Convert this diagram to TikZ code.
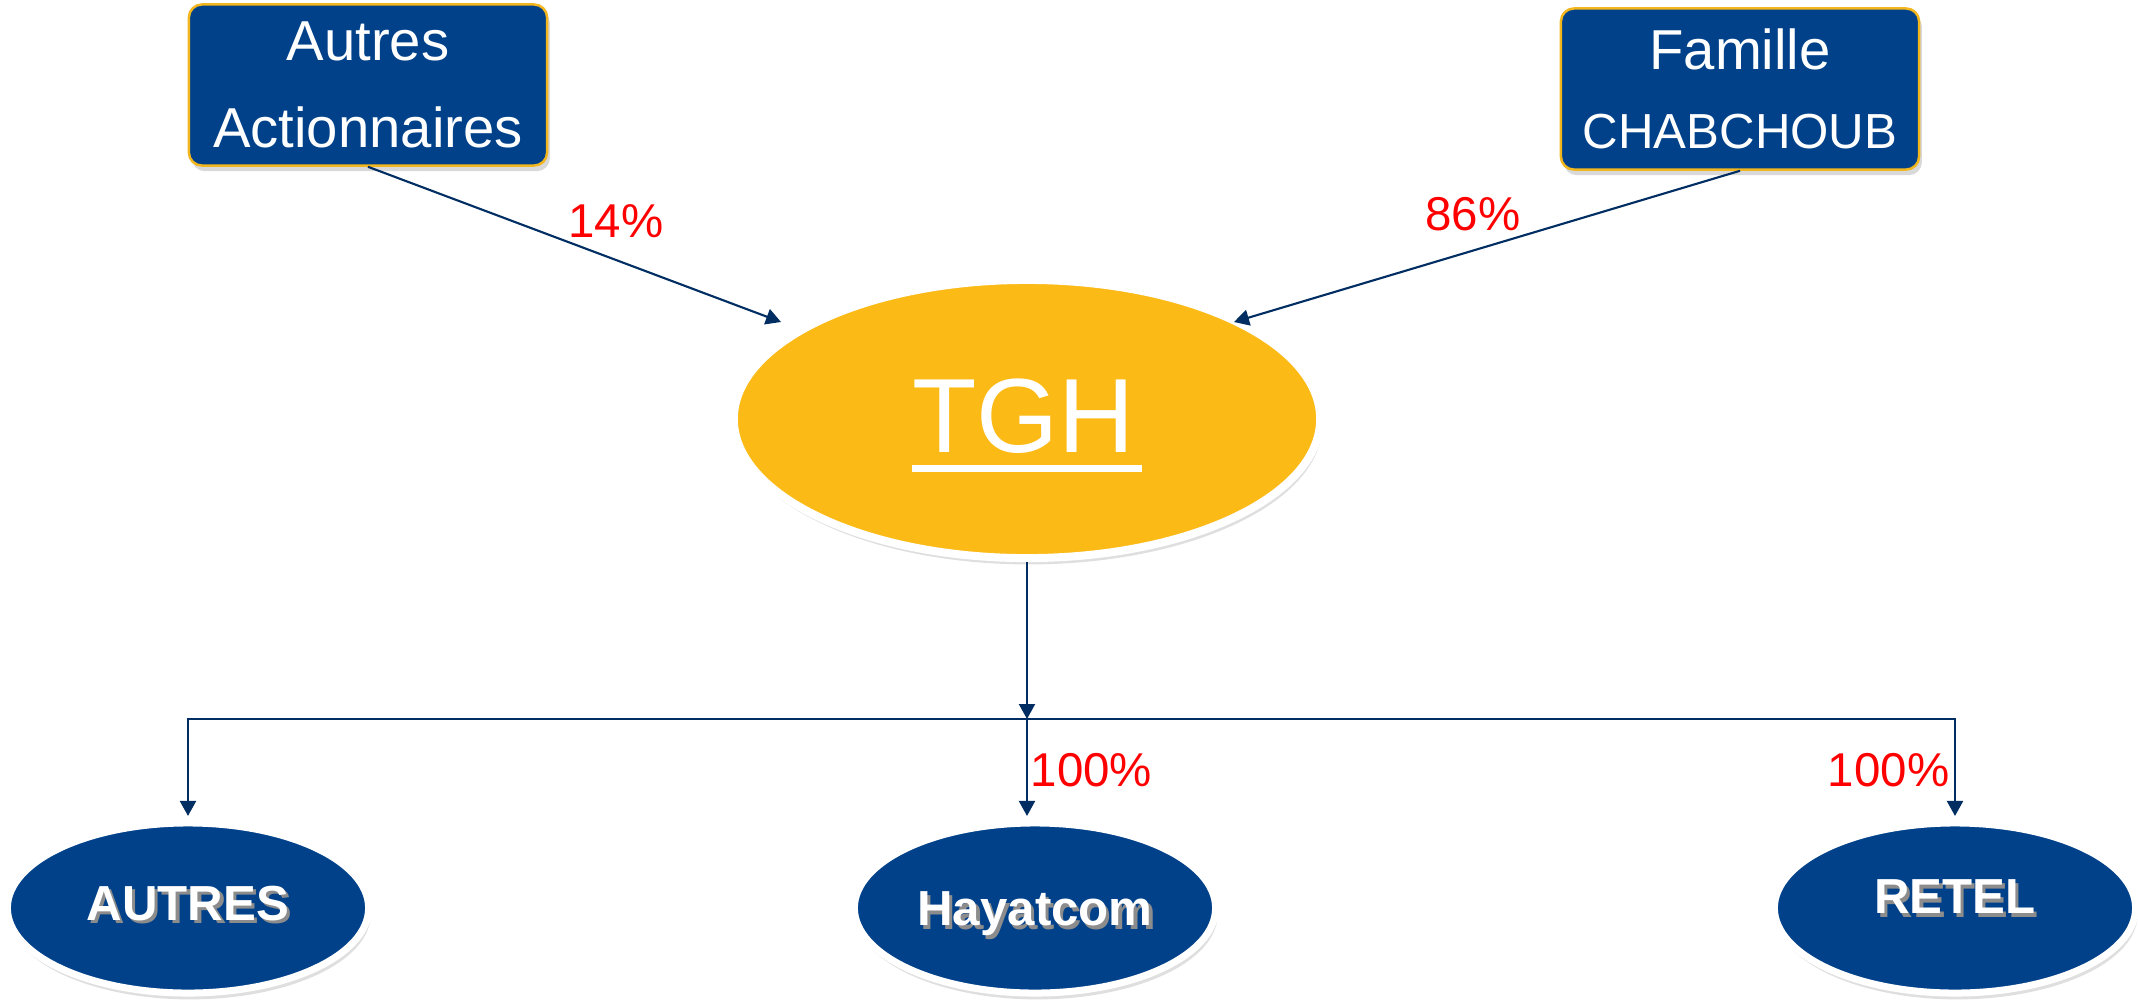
\documentclass[tikz,border=0pt]{standalone}
\usepackage{fontspec}
\setmainfont{Liberation Sans}
\usepackage{xcolor}
\definecolor{blue_box}{RGB}{0,65,138}
\definecolor{gold_tgh}{RGB}{251,186,22}
\definecolor{gold_border}{RGB}{242,182,30}
\definecolor{navy_line}{RGB}{0,45,98}
\definecolor{red_pct}{RGB}{255,0,0}
\definecolor{grey_shadow}{RGB}{140,140,140}
\usepackage{tikz}
\usetikzlibrary{arrows.meta,shapes.geometric,shadows}

\newcommand{\tghline}[1]{\vtop{\hbox{\rule{0pt}{24.5pt}#1\kern2pt}\kern3.1pt\hrule height 2pt}}
\newcommand{\shadowtext}[1]{\rlap{\kern0.9pt\raisebox{-0.9pt}{\textcolor{grey_shadow}{#1}}}#1}

\begin{document}
\begin{tikzpicture}
[	x=0.01cm, y=-0.01cm,
	holder/.style={draw=gold_border, line width=0.7pt, fill=blue_box, rounded corners=0.13cm,
		minimum width=3.58cm, minimum height=1.61cm, text=white, align=center, inner sep=0pt,
		drop shadow={opacity=0.3, shadow xshift=0.8pt, shadow yshift=-1.6pt}},
	holding/.style={ellipse, draw=white, line width=0.08cm, fill=gold_tgh, inner sep=0pt,
		minimum width=5.86cm, minimum height=2.78cm, text=white, font=\fontsize{30}{36}\selectfont,
		drop shadow={opacity=0.25, shadow xshift=0.6pt, shadow yshift=-1.8pt}},
	filiale/.style={ellipse, draw=white, line width=0.07cm, fill=blue_box, inner sep=0pt,
		minimum width=3.61cm, minimum height=1.70cm, text=white, font=\fontsize{14}{17}\selectfont\bfseries,
		text height=10.2pt, text depth=0pt,
		drop shadow={opacity=0.25, shadow xshift=0.6pt, shadow yshift=-1.8pt}},
	pct/.style={text=red_pct, font=\fontsize{13.5}{16}\selectfont, inner sep=0pt},
	link/.style={draw=navy_line, line width=0.6pt, -{Triangle[length=0.15cm, width=0.16cm]}}
]
\useasboundingbox (0,0) rectangle (2138,1002);

% shareholders
\node (aa)[holder, font=\fontsize{16}{24.7}\selectfont] at (368,85) {Autres\\Actionnaires};
\node (fc)[holder, font=\fontsize{16}{22.5}\selectfont] at (1740,89) {Famille\\{\fontsize{14}{22.5}\selectfont CHABCHOUB}};

% holding
\node (tgh)[holding] at (1027,419) {\tghline{TGH}};

% subsidiaries
\node (autres)[filiale, text depth=3.1pt] at (188,908) {\shadowtext{AUTRES}};
\node (hayat)[filiale] at (1035,908) {\shadowtext{Hayatcom}};
\node (retel)[filiale, text depth=6.8pt] at (1955,908) {\shadowtext{RETEL}};

\coordinate (tghL) at (781,322);
\coordinate (tghR) at (1234,322);
\coordinate (hub) at (1027,719);

% arrows to TGH
\draw[link] (aa.south) -- (tghL);
\draw[link] (fc.south) -- (tghR);

% arrows to subsidiaries
\draw[link] (tgh.south) -- (hub);
\draw[link, shorten >=0.035cm] (hub) -| (autres.north);
\draw[link, shorten >=0.035cm] (hub) -| (retel.north);
\draw[link, shorten >=0.035cm] (hub) -- (hub |- hayat.north);

% shares
\node (p14)[pct] at (616,221) {14\%};
\node (p86)[pct] at (1473,214) {86\%};
\node (p100h)[pct, anchor=west] at (1030,770) {100\%};
\node (p100r)[pct, anchor=east] at (1950,770) {100\%};

\end{tikzpicture}
\end{document}
